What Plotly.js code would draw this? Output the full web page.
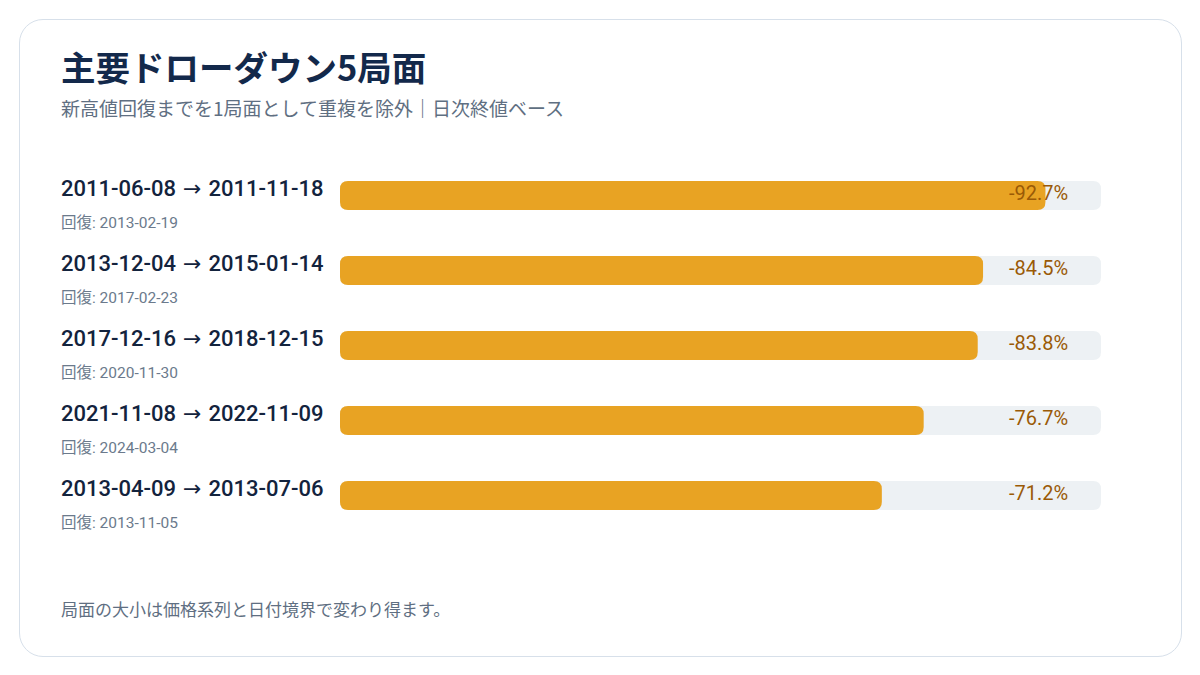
<!DOCTYPE html>
<html>
<head>
<meta charset="utf-8">
<script src="https://cdn.plot.ly/plotly-3.0.1.min.js"></script>
<style>
  body { margin: 0; background: #fff; }
  #card {
    position: absolute; left: 19px; top: 19px; width: 1161px; height: 636px;
    border: 1.5px solid #d7e0ea; border-radius: 24px; background: #fff;
  }
  #plot { position: absolute; left: 0; top: 0; width: 1200px; height: 675px; }
</style>
</head>
<body>
<div id="card"></div>
<div id="plot"></div>
<script>
const starts = ['2011-06-08', '2013-12-04', '2017-12-16', '2021-11-08', '2013-04-09']
const troughs = ['2011-11-18', '2015-01-14', '2018-12-15', '2022-11-09', '2013-07-06']
const recoveries = ['2013-02-19', '2017-02-23', '2020-11-30', '2024-03-04', '2013-11-05']
const drawdowns = [-92.7, -84.5, -83.8, -76.7, -71.2]

const W = 1200, H = 675
const M = { l: 340, r: 99, t: 158, b: 142 }
const PW = W - M.l - M.r
const PH = H - M.t - M.b
// pixel -> paper helpers
const px = x => (x - M.l) / PW
const py = y => (H - M.b - y) / PH

const font = "Roboto, 'Noto Sans CJK JP', sans-serif"
const cjk = "'Noto Sans CJK JP', sans-serif"
const rows = drawdowns.map((d, i) => i)

// rounded bar as a path in data units (plotly cornerradius doesn't show here)
const BAR_H = 0.387
const RX = 8 * 100 / PW
const RY = 8 / 75
function roundBar (i, v, color) {
  const x0 = 0, x1 = v, y0 = i - BAR_H / 2, y1 = i + BAR_H / 2
  const path = `M${x0 + RX},${y0} L${x1 - RX},${y0} Q${x1},${y0} ${x1},${y0 + RY} ` +
    `L${x1},${y1 - RY} Q${x1},${y1} ${x1 - RX},${y1} L${x0 + RX},${y1} ` +
    `Q${x0},${y1} ${x0},${y1 - RY} L${x0},${y0 + RY} Q${x0},${y0} ${x0 + RX},${y0} Z`
  return { type: 'path', xref: 'x', yref: 'y', path, fillcolor: color, line: { width: 0 }, layer: 'below' }
}

const shapes = []
rows.forEach(i => shapes.push(roundBar(i, 100, '#edf1f4')))
rows.forEach(i => shapes.push(roundBar(i, Math.abs(drawdowns[i]), '#e8a323')))

const arrow = "<span style='font-family:DejaVu Sans;font-weight:400;font-size:22px'> → </span>"

const annotations = []
rows.forEach(i => {
  annotations.push({
    xref: 'paper', yref: 'y', x: px(59), y: i, xanchor: 'left', yanchor: 'middle',
    yshift: 7, showarrow: false,
    text: starts[i] + arrow + troughs[i],
    font: { family: font, size: 22, weight: 500, color: '#13233d' }
  })
  annotations.push({
    xref: 'paper', yref: 'y', x: px(59), y: i, xanchor: 'left', yanchor: 'middle',
    yshift: -27, showarrow: false,
    text: '回復: ' + recoveries[i],
    font: { family: font, size: 15.5, color: '#6b7a8c' }
  })
  annotations.push({
    xref: 'x', yref: 'y', x: 95.9, y: i, xanchor: 'right', yanchor: 'middle',
    yshift: 3, showarrow: false,
    text: drawdowns[i].toFixed(1) + '%',
    font: { family: font, size: 20, color: '#9a5a06' }
  })
})

annotations.push({
  xref: 'paper', yref: 'paper', x: px(59), y: py(66), xanchor: 'left', yanchor: 'middle',
  showarrow: false, text: '<b>主要ドローダウン5局面</b>',
  font: { family: cjk, size: 34.5, color: '#13294b' }
})
annotations.push({
  xref: 'paper', yref: 'paper', x: px(59), y: py(107), xanchor: 'left', yanchor: 'middle',
  showarrow: false, text: '新高値回復までを1局面として重複を除外｜日次終値ベース',
  font: { family: cjk, size: 19, color: '#5f6f82' }
})
annotations.push({
  xref: 'paper', yref: 'paper', x: px(59), y: py(608), xanchor: 'left', yanchor: 'middle',
  showarrow: false, text: '局面の大小は価格系列と日付境界で変わり得ます。',
  font: { family: cjk, size: 17, color: '#5f6f82' }
})

const layout = {
  width: W, height: H,
  margin: M,
  paper_bgcolor: 'rgba(0,0,0,0)',
  plot_bgcolor: 'rgba(0,0,0,0)',
  showlegend: false,
  xaxis: { range: [0, 100], visible: false, fixedrange: true },
  yaxis: { range: [4.5, -0.5], visible: false, fixedrange: true },
  shapes: shapes,
  annotations: annotations
}

// empty trace so the axes exist
const base = { type: 'scatter', x: [], y: [], hoverinfo: 'skip' }

Plotly.newPlot('plot', [base], layout, { staticPlot: true, displayModeBar: false })
</script>
</body>
</html>
